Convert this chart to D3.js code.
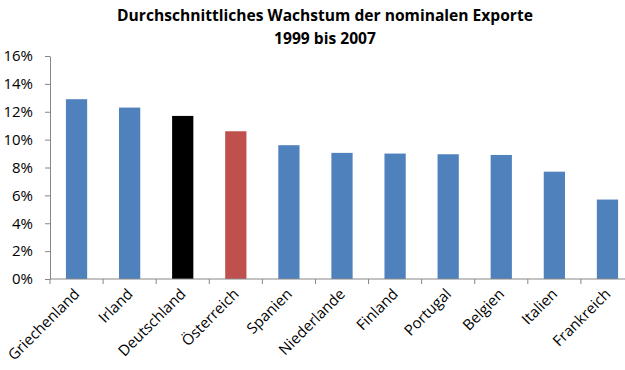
<!DOCTYPE html>
<html>
<head>
<meta charset="utf-8">
<script src="https://cdn.jsdelivr.net/npm/d3@7"></script>
<style>
  body { margin: 0; background: #fff; }
  text { font-family: "Open Sans", "Liberation Sans", sans-serif; }
</style>
</head>
<body>
<div id="chart"></div>
<script>
// data
var countries = ["Griechenland", "Irland", "Deutschland", "Österreich", "Spanien",
  "Niederlande", "Finland", "Portugal", "Belgien", "Italien", "Frankreich"]
var growth = [12.9, 12.3, 11.7, 10.6, 9.6, 9.05, 9.0, 8.95, 8.9, 7.7, 5.7]
var yTicks = [0, 2, 4, 6, 8, 10, 12, 14, 16]
var titleLines = ["Durchschnittliches Wachstum der nominalen Exporte", "1999 bis 2007"]

var w = 625, h = 370

var barColor = function(name){
  if(name == "Deutschland") return "#000000"
  if(name == "Österreich") return "#c0504d"
  return "#4f81bd"
}

var svg = d3.select("#chart").append("svg")
  .attr("width", w).attr("height", h)

var data = countries.map(function(c, i){ return {k: c, v: growth[i]} })

var x = d3.scaleBand()
  .domain(countries)
  .range([50, 634])
  .paddingInner(0.6)
  .paddingOuter(0.3)

var y = d3.scaleLinear()
  .domain([0, 16])
  .range([279, 56])

// title
svg.selectAll("text.title")
  .data(titleLines)
  .enter().append("text")
    .attr("class", "title")
    .attr("x", 325)
    .attr("y", function(d, i){ return 21 + i * 23 })
    .attr("text-anchor", "middle")
    .style("font-size", "15.6px")
    .style("font-weight", "bold")
    .text(function(d){ return d })

// bars
svg.selectAll("rect.bar")
  .data(data)
  .enter().append("rect")
    .attr("class", "bar")
    .attr("x", function(d){ return x(d.k) })
    .attr("width", x.bandwidth())
    .attr("y", function(d){ return y(d.v) })
    .attr("height", function(d){ return y(0) - y(d.v) })
    .style("fill", function(d){ return barColor(d.k) })

// y axis
var yAxis = svg.append("g")
  .attr("transform", "translate(50,0)")
  .call(d3.axisLeft(y).tickValues(yTicks).tickSize(5).tickSizeOuter(0)
    .tickFormat(function(d){ return d + "%" }))
yAxis.select(".domain").attr("stroke", "#868686")
yAxis.selectAll(".tick line").attr("stroke", "#868686")
yAxis.selectAll(".tick text")
  .attr("x", -17)
  .style("font-size", "15px")
  .style("font-family", "'Open Sans', sans-serif")
  .attr("fill", "#000")

// x axis: boundary ticks between categories
var step = x.step()
var bounds = d3.range(countries.length + 1).map(function(i){ return 50 + i * step })
var xg = svg.append("g")
xg.append("line")
  .attr("x1", 50).attr("x2", w)
  .attr("y1", y(0)).attr("y2", y(0))
  .attr("stroke", "#868686")
xg.selectAll("line.tick")
  .data(bounds)
  .enter().append("line")
    .attr("class", "tick")
    .attr("x1", function(d){ return d }).attr("x2", function(d){ return d })
    .attr("y1", y(0)).attr("y2", y(0) + 5)
    .attr("stroke", "#868686")

xg.selectAll("text.xlabel")
  .data(countries)
  .enter().append("text")
    .attr("class", "xlabel")
    .attr("transform", function(d){
      return "translate(" + (x(d) + x.bandwidth() / 2 + 4) + "," + (y(0) + 16) + ") rotate(-45)"
    })
    .attr("text-anchor", "end")
    .style("font-size", "15px")
    .text(function(d){ return d })
</script>
</body>
</html>
